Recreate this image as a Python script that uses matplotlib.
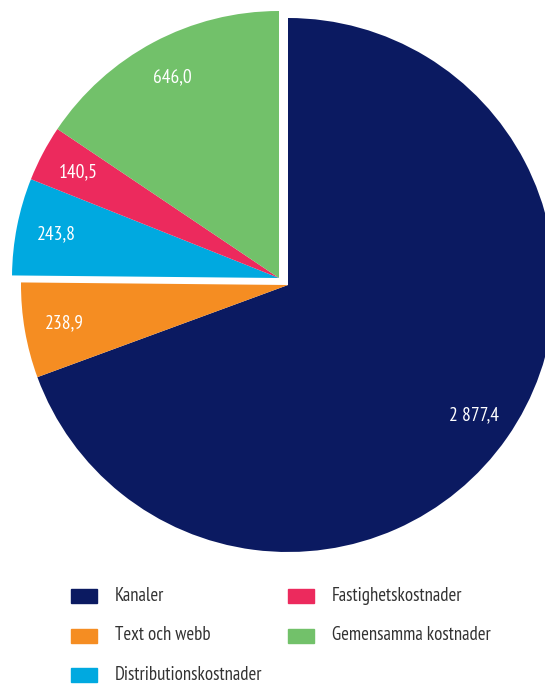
import matplotlib.pyplot as plt
from matplotlib.patches import Rectangle

# Data
labels = ["Kanaler", "Text och webb", "Distributionskostnader",
          "Fastighetskostnader", "Gemensamma kostnader"]
values = [2877.4, 238.9, 243.8, 140.5, 646.0]
colors = ["#0b1a61", "#f58d22", "#00a9e0", "#ec2a5d", "#72c16a"]
lifted = [False, False, True, True, True]  # slices pulled out as a group

plt.rcParams["font.family"] = ["PT Sans Narrow", "DejaVu Sans"]


def sv(v):
    return f"{v:,.1f}".replace(",", " ").replace(".", ",")


fig = plt.figure(figsize=(5.45, 6.84), dpi=100)
ax = fig.add_axes([0, 0, 1, 1])

cx, cy, r = 288, 399, 267
dx, dy = -9, 7

wedges, texts = ax.pie(values, colors=colors, labels=[sv(v) for v in values],
                       startangle=90, counterclock=False, radius=r,
                       center=(cx, cy), labeldistance=0.85, frame=True,
                       textprops=dict(color="white", fontsize=14,
                                      ha="center", va="center"))
for w, t, up in zip(wedges, texts, lifted):
    t.set_horizontalalignment("center")
    if up:
        w.set_center((cx + dx, cy + dy))
        x, y = t.get_position()
        t.set_position((x + dx, y + dy))
ax.set_xlim(0, 545)
ax.set_ylim(0, 684)
ax.set_aspect("equal")
ax.axis("off")

# legend
for i, (lab, col) in enumerate(zip(labels, colors)):
    c, row = divmod(i, 3)
    x0 = 71 + c * 217
    y0 = 684 - (596 + row * 39.5)
    ax.add_patch(Rectangle((x0, y0 - 7), 26, 14, color=col, clip_on=False))
    ax.text(x0 + 44, y0, lab, fontsize=13.5, color="#333333",
            ha="left", va="center")

fig.savefig("out.png", dpi=100)
